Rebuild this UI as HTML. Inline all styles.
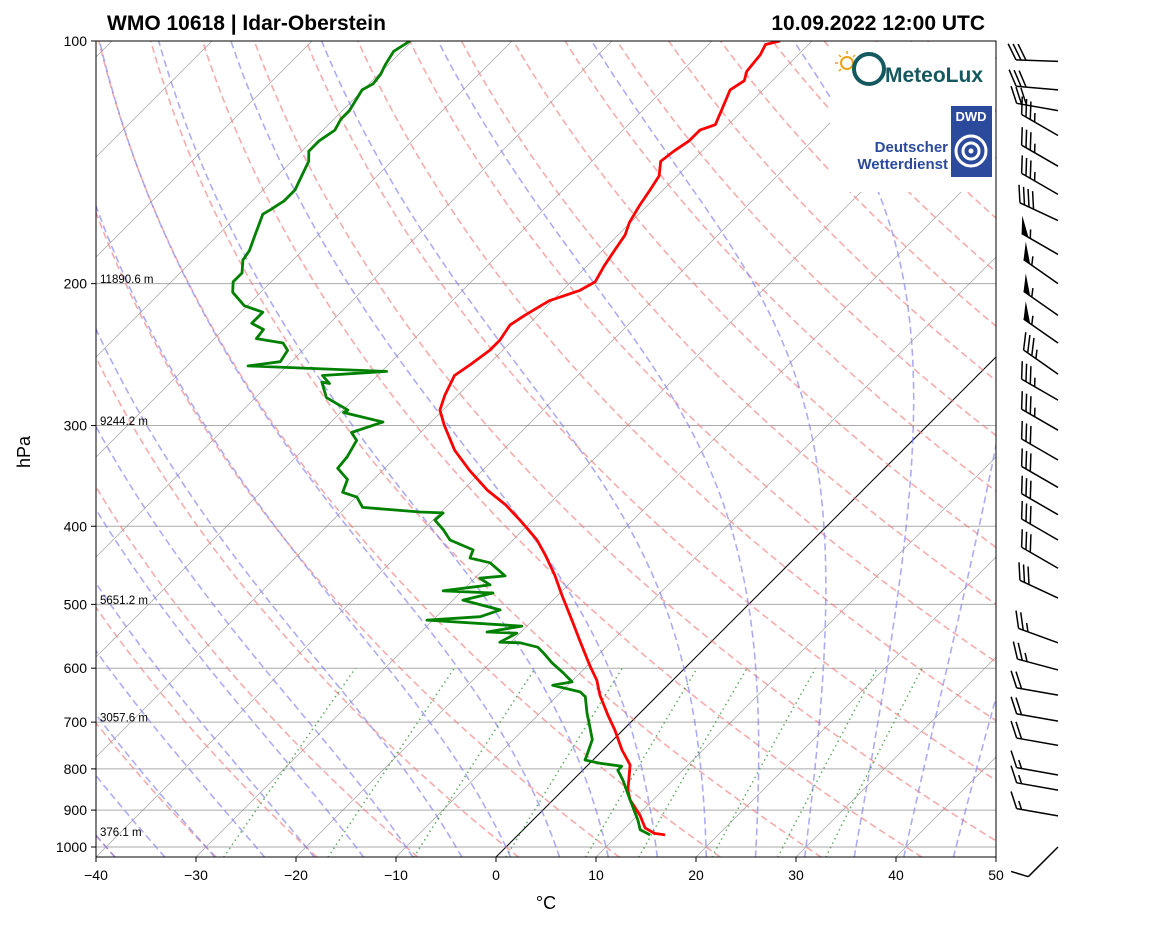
<!DOCTYPE html>
<html><head><meta charset="utf-8"><style>
body{margin:0;background:#fff;}
svg{display:block;font-family:"Liberation Sans",sans-serif;}
</style></head><body>
<svg id="chart" width="1160" height="925" viewBox="0 0 1160 925">
<defs><clipPath id="plotclip"><rect x="96" y="41" width="900" height="816"/></clipPath></defs>
<rect x="0" y="0" width="1160" height="925" fill="#fff"/>
<g id="grid" clip-path="url(#plotclip)"></g>
<g id="logos">
  <rect x="830" y="42" width="165" height="150" fill="#fff"/>
  <g>
    <circle cx="847" cy="63" r="6" fill="none" stroke="#e8a317" stroke-width="2"/>
    <g stroke="#e8a317" stroke-width="1.5">
      <line x1="847" y1="51" x2="847" y2="54"/><line x1="835" y1="63" x2="838" y2="63"/>
      <line x1="839" y1="55" x2="841" y2="57"/><line x1="855" y1="55" x2="853" y2="57"/>
      <line x1="839" y1="71" x2="841" y2="69"/>
    </g>
    <circle cx="869" cy="69" r="15" fill="none" stroke="#14595f" stroke-width="4"/>
    <text x="885" y="82" font-size="21" font-weight="bold" fill="#14595f">MeteoLux</text>
  </g>
  <g>
    <rect x="951" y="106" width="41" height="71" fill="#2c4a9c"/>
    <text x="971" y="121" font-size="13" font-weight="bold" fill="#fff" text-anchor="middle">DWD</text>
    <circle cx="971" cy="151" r="15" fill="none" stroke="#fff" stroke-width="3"/>
    <circle cx="971" cy="151" r="8" fill="none" stroke="#fff" stroke-width="3"/>
    <circle cx="971" cy="151" r="2.5" fill="#fff"/>
    <text x="948" y="152" font-size="15" font-weight="bold" fill="#2c4a9c" text-anchor="end">Deutscher</text>
    <text x="948" y="169" font-size="15" font-weight="bold" fill="#2c4a9c" text-anchor="end">Wetterdienst</text>
  </g>
</g>
<g id="frame"></g>
<g id="barbs"></g>
<text x="107" y="30" font-size="21" font-weight="bold">WMO 10618 | Idar-Oberstein</text>
<text x="985" y="30" font-size="21" font-weight="bold" text-anchor="end">10.09.2022 12:00 UTC</text>
<text x="30" y="452" font-size="18" text-anchor="middle" transform="rotate(-90 30 452)">hPa</text>
<text x="546" y="909" font-size="18" text-anchor="middle">°C</text>
</svg>
<script>
const tempP=[966,962,947,913,874,850,791,758,716,686,648,621,595,554,523,487,460,434,416,404,393,376,361,341,322,300,287,275,260,252,242,235,225,219,210,207,204,199,190,182,174,168,160,153,147,141,137,133,129,127,122,115,112,109,104,101,100];
const tempT=[14.7,13.5,12.0,10.2,7.7,6.5,4.2,1.9,-0.8,-3.0,-5.8,-7.6,-9.8,-13.3,-16.1,-19.6,-22.3,-25.3,-27.6,-29.5,-31.3,-34.3,-37.5,-41.3,-44.8,-48.3,-50.3,-51.3,-52.3,-51.8,-51.3,-51.3,-51.8,-51.3,-50.3,-49.3,-48.3,-47.6,-48.3,-48.8,-49.3,-50.1,-50.8,-51.3,-51.8,-53.1,-52.8,-52.3,-52.3,-51.3,-52.1,-53.3,-52.8,-53.5,-53.8,-54.3,-53.2];
const dewP=[966,952,926,874,826,803,794,787,780,769,736,710,682,651,642,630,624,608,591,574,565,558,557,543,541,532,523,518,508,494,484,481,473,464,461,444,438,428,416,404,393,385,384,379,368,363,350,339,328,313,306,297,289,287,277,265,266,260,257,253,250,242,237,234,228,224,217,213,205,199,194,187,182,174,164,162,158,153,149,141,137,133,129,125,122,115,113,110,107,103,100];
const dewT=[13.2,11.7,10.5,7.7,5.0,3.5,3.5,1.0,-0.8,-1.1,-2.1,-3.6,-5.3,-7.1,-8.1,-11.5,-9.9,-11.7,-13.8,-15.7,-16.8,-19.0,-21.1,-20.3,-23.4,-20.5,-30.6,-25.6,-24.3,-29.0,-26.7,-31.9,-27.8,-29.5,-27.2,-30.0,-32.5,-33.0,-36.3,-38.0,-39.8,-39.7,-42.1,-48.3,-49.9,-51.8,-52.6,-54.7,-54.9,-55.6,-56.9,-54.8,-59.7,-59.5,-62.9,-64.9,-64.0,-65.5,-59.5,-73.9,-71.1,-71.5,-72.7,-75.8,-76.0,-77.8,-77.8,-80.3,-82.8,-83.8,-83.8,-85.0,-85.3,-86.3,-87.6,-87.3,-86.8,-86.8,-87.3,-88.3,-89.3,-89.3,-88.8,-89.3,-89.3,-90.1,-89.6,-89.8,-90.3,-90.8,-90.2];
const windP=[106,115,122,131,143,155,167,184,200,219,237,259,279,304,331,358,387,416,451,491,558,603,648,698,748,814,850,915,1000];
const windSpd=[30,30,30,35,35,35,40,55,55,55,55,35,35,35,30,30,30,30,30,30,25,25,20,20,20,15,15,15,10];
const windDir=[272,275,280,300,300,300,295,300,305,305,305,305,300,300,300,300,300,300,300,295,290,285,280,280,280,280,280,280,225];
const pTicks=[100,200,300,400,500,600,700,800,900,1000];
const tTicks=[-40,-30,-20,-10,0,10,20,30,40,50];
const hgtP=[200,300,500,700,970];
const hgtLbl=["11890.6 m","9244.2 m","5651.2 m","3057.6 m","376.1 m"];
const mixW=[0.0004,0.001,0.002,0.004,0.007,0.01,0.016,0.024,0.032];

const NS='http://www.w3.org/2000/svg';
function Y(p){return 41+806*Math.log10(p/100);}
function X(t,p){return 496+10*t+(857-Y(p));}
function mk(tag,attrs,parent){const e=document.createElementNS(NS,tag);for(const k in attrs)e.setAttribute(k,attrs[k]);parent.appendChild(e);return e;}
const grid=document.getElementById('grid');
const frame=document.getElementById('frame');
function path(pts){return pts.map((q,i)=>(i?'L':'M')+q[0].toFixed(1)+','+q[1].toFixed(1)).join('');}

pTicks.forEach(p=>{
  const l=mk('line',{x1:96,x2:996,y1:Y(p),y2:Y(p),stroke:'#aaaaaa','stroke-width':1},grid);
  
  
});
for(let t=-160;t<=50;t+=10){
  const l=mk('line',{x1:X(t,1030),y1:Y(1030),x2:X(t,100),y2:Y(100),stroke:t===0?'#000':'#888','stroke-width':t===0?1:0.7,'stroke-opacity':t===0?1:0.8},grid);
  
  
}
const plevs=[];for(let p=1030;p>=100;p-=5)plevs.push(p);
for(let th=-40;th<=250;th+=10){
  const pts=plevs.map(p=>[X((th+273.15)*Math.pow(p/1000,0.2857)-273.15,p),Y(p)]);
  const e=mk('path',{d:path(pts),fill:'none',stroke:'#f08080','stroke-opacity':0.65,'stroke-width':1.6,'stroke-dasharray':'7,4'},grid);
  
  
}
function es(tc){return 6.112*Math.exp(17.67*tc/(tc+243.5));}
function dTdp(T,p){const e=es(T-273.15);const rs=0.622*e/(p-e);return (287.04*T+2.501e6*rs)/(1005.7+(2.501e6*2.501e6*rs*0.622/(287.04*T*T)))/p;}
for(let t0=-50;t0<=45;t0+=5){
  let T=t0+273.15;const pts=[];
  let Td=T;for(let p=1000;p<1030;p+=1){Td+=dTdp(Td,p);} pts.push([X(Td-273.15,1030),Y(1030)]);
  for(let p=1000;p>=100;p-=1){if(p%5===0)pts.push([X(T-273.15,p),Y(p)]);T-=dTdp(T,p);}
  const e=mk('path',{d:path(pts),fill:'none',stroke:'#8080f0','stroke-opacity':0.65,'stroke-width':1.6,'stroke-dasharray':'7,4'},grid);
  
  
}
mixW.forEach(w=>{
  const pts=[];for(let p=1030;p>=600;p-=10){const e=w*p/(0.622+w);const l=Math.log(e/6.112);const td=243.5*l/(17.67-l);pts.push([X(td,p),Y(p)]);}
  const e=mk('path',{d:path(pts),fill:'none',stroke:'#3a9a3a','stroke-opacity':0.8,'stroke-width':1.5,'stroke-dasharray':'1.5,3.5'},grid);
  
  
});
const tl=mk('path',{d:path(tempP.map((p,i)=>[X(tempT[i],p),Y(p)])),fill:'none',stroke:'#ff0000','stroke-width':2.8,'stroke-linejoin':'round'},grid);


const dl=mk('path',{d:path(dewP.map((p,i)=>[X(dewT[i],p),Y(p)])),fill:'none',stroke:'#008000','stroke-width':2.8,'stroke-linejoin':'round'},grid);


hgtP.forEach((p,i)=>{
  const t=mk('text',{x:100,y:Y(p)-0.5,'font-size':11.5},grid);t.textContent=hgtLbl[i];
  
  
});
const fr=mk('rect',{x:96,y:41,width:900,height:816,fill:'none',stroke:'#000','stroke-width':1},frame);


pTicks.forEach(p=>{
  mk('line',{x1:91,x2:96,y1:Y(p),y2:Y(p),stroke:'#000'},frame);
  const t=mk('text',{x:87,y:Y(p)+5,'font-size':14,'text-anchor':'end'},frame);t.textContent=p;
  
  
});
tTicks.forEach(v=>{
  const x=96+(v+40)*10;
  mk('line',{x1:x,x2:x,y1:857,y2:862,stroke:'#000'},frame);
  const t=mk('text',{x:x,y:880,'font-size':14,'text-anchor':'middle'},frame);t.textContent=(v<0?'\u2212'+(-v):v);
  
  
});
const bg=document.getElementById('barbs');
windP.forEach((p,i)=>{
  const g=mk('g',{},bg);
  
  
  const bx=1058,by=Y(p);const d=windDir[i]*Math.PI/180;
  const ux=Math.sin(d),uy=-Math.cos(d);const L=42;
  const tx=bx+L*ux,ty=by+L*uy;
  const th=Math.atan2(uy,ux)+62*Math.PI/180;const vx=Math.cos(th),vy=Math.sin(th);
  mk('line',{x1:bx,y1:by,x2:tx,y2:ty,stroke:'#000','stroke-width':1.5},g);
  let s=windSpd[i];let pos=0;const BL=18;
  while(s>=50){const ax=tx-ux*pos,ay=ty-uy*pos,cx=tx-ux*(pos+8),cy=ty-uy*(pos+8);
    mk('polygon',{points:`${ax},${ay} ${ax+vx*BL},${ay+vy*BL} ${cx},${cy}`,fill:'#000'},g);pos+=10;s-=50;}
  while(s>=10){const ax=tx-ux*pos,ay=ty-uy*pos;mk('line',{x1:ax,y1:ay,x2:ax+vx*BL,y2:ay+vy*BL,stroke:'#000','stroke-width':1.5},g);pos+=5;s-=10;}
  if(s>=5){if(pos===0)pos=5;const ax=tx-ux*pos,ay=ty-uy*pos;mk('line',{x1:ax,y1:ay,x2:ax+vx*BL/2,y2:ay+vy*BL/2,stroke:'#000','stroke-width':1.5},g);}
});
</script>
</body></html>
